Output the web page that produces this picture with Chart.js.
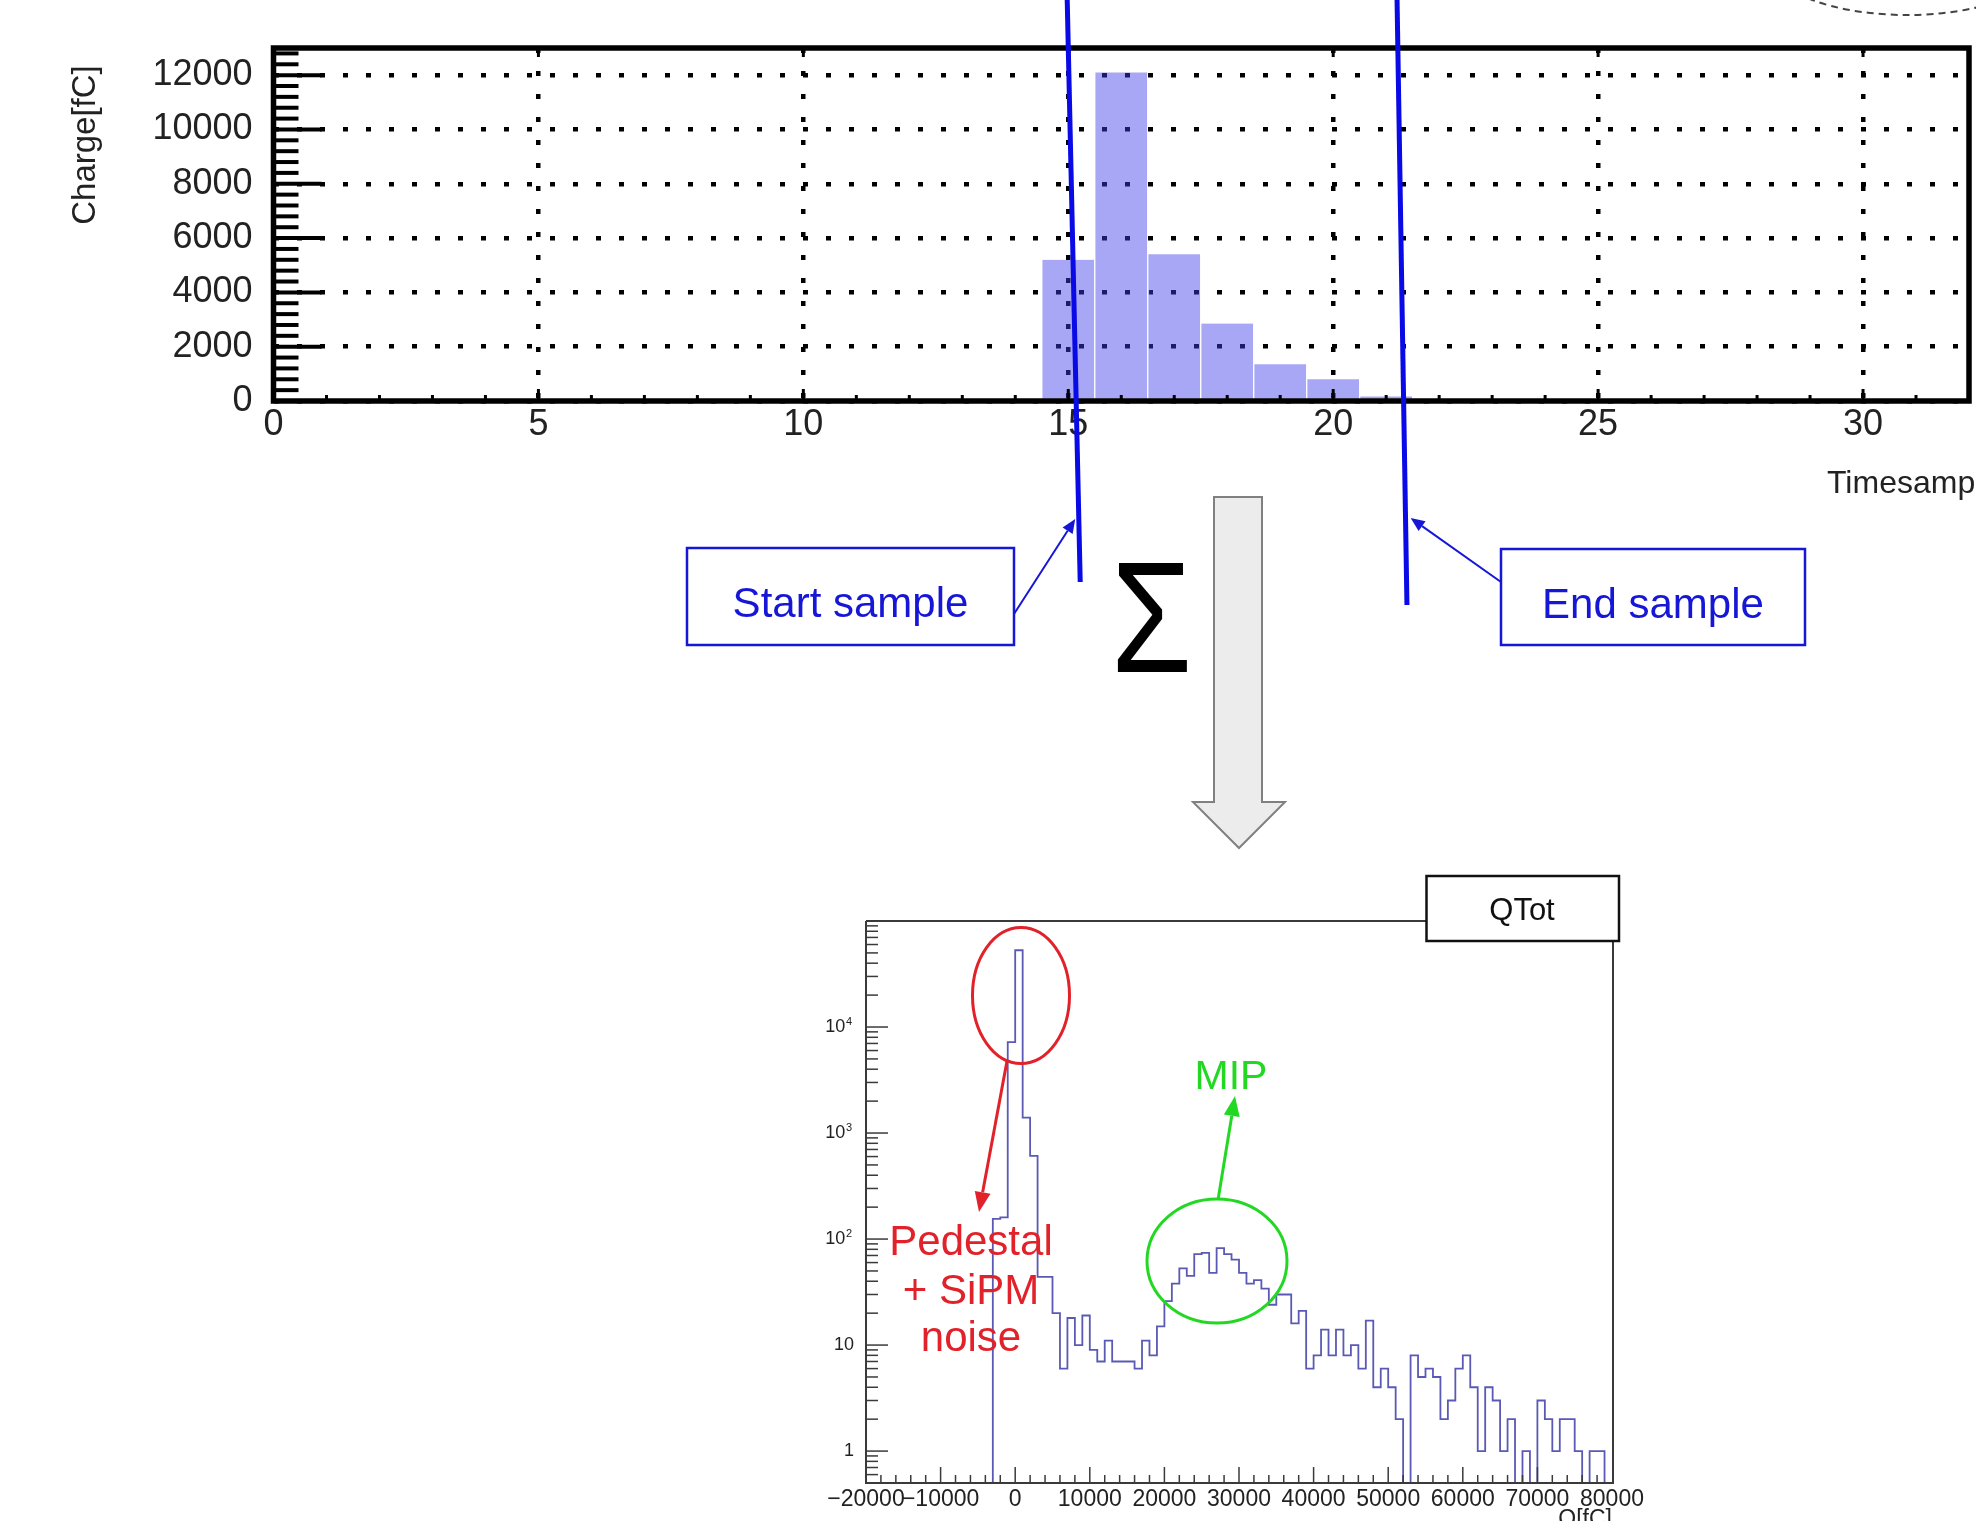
<!DOCTYPE html>
<html>
<head>
<meta charset="utf-8">
<script src="https://cdn.jsdelivr.net/npm/chart.js@4.4.1/dist/chart.umd.min.js"></script>
<style>
  html, body { margin: 0; padding: 0; background: #fff; }
  body { width: 1976px; height: 1521px; position: relative; overflow: hidden; }
  #pulseChart { position: absolute; left: 0; top: 0; }
  #qtotChart { position: absolute; left: 600px; top: 860px; }
</style>
</head>
<body>
<canvas id="pulseChart" width="1976" height="860"></canvas>
<canvas id="qtotChart" width="1100" height="661"></canvas>
<script>
const FONT = '"Liberation Sans", Arial, Helvetica, sans-serif';

// top plot: charge per time sample
const sampleBins = [15, 16, 17, 18, 19, 20, 21];
const sampleCharge = [5200, 12100, 5400, 2850, 1350, 800, 170];
const sampleTicks = [0, 5, 10, 15, 20, 25, 30];
const chargeTicks = [0, 2000, 4000, 6000, 8000, 10000, 12000];
// where the hand drawn window lines cross the time axis
const windowStart = 15.15;
const windowEnd = 21.33;

// bottom plot: QTot spectrum, 1000 fC bins given by lower edge
const qBinLow = [
  -4000, -3000, -2000, -1000, 0, 1000, 2000, 3000, 4000, 5000, 6000, 7000, 8000, 9000,
  10000, 11000, 12000, 13000, 14000, 15000, 16000, 17000, 18000, 19000,
  20000, 21000, 22000, 23000, 24000, 25000, 26000, 27000, 28000, 29000,
  30000, 31000, 32000, 33000, 34000, 35000, 36000, 37000, 38000, 39000,
  40000, 41000, 42000, 43000, 44000, 45000, 46000, 47000, 48000, 49000,
  50000, 51000, 52000, 53000, 54000, 55000, 56000, 57000, 58000, 59000,
  60000, 61000, 62000, 63000, 64000, 65000, 66000, 67000, 68000, 69000,
  70000, 71000, 72000, 73000, 74000, 75000, 76000, 77000, 78000, 79000
];
const qCounts = [
  0, 155, 160, 7200, 53000, 1400, 610, 44, 44, 20, 6, 18, 10, 19,
  9, 7, 11, 7, 7, 7, 6, 11, 8, 15,
  26, 38, 53, 45, 72, 74, 48, 82, 72, 64,
  48, 38, 41, 34, 24, 30, 30, 16, 21, 6,
  8, 14, 8, 14, 8, 10, 6, 17, 4, 6,
  4, 2, 0, 8, 5, 6, 5, 2, 3, 6,
  8, 4, 1, 4, 3, 1, 2, 0, 1, 0,
  3, 2, 1, 2, 2, 1, 0, 1, 1, 0
];
const qBinWidth = 1000;
const qTicks = [-20000, -10000, 0, 10000, 20000, 30000, 40000, 50000, 60000, 70000, 80000];
const qDecades = [1, 10, 100, 1000, 10000];
const Q_MIN = 0.5;
const Q_MAX = 100000;

Chart.defaults.font.family = FONT;

function arrow(ctx, x1, y1, x2, y2, color, lw, head, half) {
  const a = Math.atan2(y2 - y1, x2 - x1);
  const bx = x2 - head * Math.cos(a), by = y2 - head * Math.sin(a);
  ctx.strokeStyle = color;
  ctx.fillStyle = color;
  ctx.lineWidth = lw;
  ctx.beginPath(); ctx.moveTo(x1, y1); ctx.lineTo(bx, by); ctx.stroke();
  ctx.beginPath();
  ctx.moveTo(x2, y2);
  ctx.lineTo(bx + half * Math.sin(a), by - half * Math.cos(a));
  ctx.lineTo(bx - half * Math.sin(a), by + half * Math.cos(a));
  ctx.closePath();
  ctx.fill();
}

function labelBox(ctx, x, y, w, h, text, color) {
  ctx.strokeStyle = color;
  ctx.lineWidth = 2.5;
  ctx.strokeRect(x, y, w, h);
  ctx.fillStyle = color;
  ctx.font = '42px ' + FONT;
  ctx.textAlign = 'center';
  ctx.textBaseline = 'alphabetic';
  ctx.fillText(text, x + w / 2, y + 69);
}

// frame, inner ticks and all the drawn-on notes of the top picture
const pulseDecor = {
  id: 'pulseDecor',
  afterDraw(chart) {
    const ctx = chart.ctx;
    const xs = chart.scales.x, ys = chart.scales.y;
    const {left, right, top, bottom} = chart.chartArea;
    ctx.save();

    // inner ticks
    ctx.strokeStyle = '#000';
    ctx.lineWidth = 4;
    for (let v = 400; v <= 12800; v += 400) {
      const y = ys.getPixelForValue(v);
      const len = v % 2000 === 0 ? 48 : 25;
      ctx.beginPath(); ctx.moveTo(left, y); ctx.lineTo(left + len, y); ctx.stroke();
    }
    ctx.lineWidth = 3;
    for (let v = 1; v < 32; v++) {
      const x = xs.getPixelForValue(v);
      const len = v % 5 === 0 ? 12 : 6;
      ctx.beginPath(); ctx.moveTo(x, bottom); ctx.lineTo(x, bottom - len); ctx.stroke();
      if (v % 5 === 0) {
        ctx.beginPath(); ctx.moveTo(x, top); ctx.lineTo(x, top + 9); ctx.stroke();
      }
    }
    // frame
    ctx.lineWidth = 5.5;
    ctx.strokeRect(left, top, right - left, bottom - top);

    // axis titles
    ctx.fillStyle = '#222';
    ctx.save();
    ctx.translate(95, 145);
    ctx.rotate(-Math.PI / 2);
    ctx.font = '33px ' + FONT;
    ctx.textAlign = 'center';
    ctx.textBaseline = 'alphabetic';
    ctx.fillText('Charge[fC]', 0, 0);
    ctx.restore();
    ctx.font = '32px ' + FONT;
    ctx.textAlign = 'left';
    ctx.fillText('Timesample', 1827, 493);

    // dashed outline peeking in at the top right
    ctx.strokeStyle = '#444';
    ctx.lineWidth = 2;
    ctx.setLineDash([7, 5]);
    ctx.beginPath(); ctx.ellipse(1907, -40, 138, 55, 0, 0, Math.PI * 2); ctx.stroke();
    ctx.setLineDash([]);

    // integration window lines
    const blue = '#0a0ae6';
    const sx = xs.getPixelForValue(windowStart);
    const ex = xs.getPixelForValue(windowEnd);
    ctx.strokeStyle = blue;
    ctx.lineWidth = 5;
    ctx.beginPath(); ctx.moveTo(sx - 9, 0); ctx.lineTo(sx + 4, 582); ctx.stroke();
    ctx.beginPath(); ctx.moveTo(ex - 6.6, 0); ctx.lineTo(ex + 3.3, 605); ctx.stroke();

    labelBox(ctx, 687, 548, 327, 97, 'Start sample', '#1616d6');
    labelBox(ctx, 1501, 549, 304, 96, 'End sample', '#1616d6');
    arrow(ctx, 1014, 614, sx - 1, 519, '#1616d6', 2, 14, 6);
    arrow(ctx, 1501, 582, ex + 7, 518, '#1616d6', 2, 14, 6);

    // sum sign
    ctx.save();
    ctx.translate(1151.5, 672);
    ctx.scale(0.83, 1);
    ctx.fillStyle = '#000';
    ctx.font = '158px ' + FONT;
    ctx.textAlign = 'center';
    ctx.textBaseline = 'alphabetic';
    ctx.fillText('\u03A3', 0, 0);
    ctx.restore();

    // big grey arrow down
    ctx.fillStyle = '#ececec';
    ctx.strokeStyle = '#808080';
    ctx.lineWidth = 2;
    ctx.beginPath();
    ctx.moveTo(1214, 497); ctx.lineTo(1262, 497); ctx.lineTo(1262, 802);
    ctx.lineTo(1285, 802); ctx.lineTo(1239, 848); ctx.lineTo(1193, 802);
    ctx.lineTo(1214, 802); ctx.closePath();
    ctx.fill(); ctx.stroke();

    ctx.restore();
  }
};

new Chart(document.getElementById('pulseChart'), {
  type: 'bar',
  data: {
    datasets: [{
      data: sampleBins.map((x, i) => ({x: x, y: sampleCharge[i]})),
      backgroundColor: 'rgba(60, 60, 232, 0.45)',
      borderColor: 'rgba(255, 255, 255, 0.9)',
      borderWidth: {left: 1, right: 1, top: 0, bottom: 0},
      barPercentage: 1,
      categoryPercentage: 1
    }]
  },
  options: {
    responsive: false,
    animation: false,
    layout: {padding: {left: 0, top: 48, right: 7, bottom: 399}},
    plugins: {legend: {display: false}, tooltip: {enabled: false}},
    scales: {
      x: {
        type: 'linear', min: 0, max: 32, offset: false,
        afterBuildTicks: s => { s.ticks = sampleTicks.map(v => ({value: v})); },
        afterFit: s => { s.height = 60; },
        ticks: {autoSkip: false, maxRotation: 0, padding: 2, color: '#222', font: {size: 36},
          callback: v => String(v)},
        grid: {color: '#000', lineWidth: 4.5, drawTicks: false, offset: false},
        border: {display: false, dash: [5, 18]}
      },
      y: {
        min: 0, max: 13000,
        afterBuildTicks: s => { s.ticks = chargeTicks.map(v => ({value: v})); },
        afterFit: s => { s.width = 273.5; },
        ticks: {autoSkip: false, padding: 21, color: '#222', font: {size: 36},
          callback: v => String(v)},
        grid: {color: '#000', lineWidth: 4.5, drawTicks: false},
        border: {display: false, dash: [5, 18]}
      }
    }
  },
  plugins: [pulseDecor]
});

// frame, ticks, log labels and notes of the QTot spectrum
const qtotDecor = {
  id: 'qtotDecor',
  afterDraw(chart) {
    const ctx = chart.ctx;
    const xs = chart.scales.x, ys = chart.scales.y;
    const {left, right, top, bottom} = chart.chartArea;
    ctx.save();

    ctx.strokeStyle = '#3a3a3a';
    ctx.lineWidth = 1.5;
    for (let d = 0.1; d < Q_MAX; d *= 10) {
      for (let m = 1; m <= 9; m++) {
        const v = d * m;
        if (v < Q_MIN || v > Q_MAX) continue;
        const y = ys.getPixelForValue(v);
        const len = m === 1 ? 22 : 12;
        ctx.beginPath(); ctx.moveTo(left, y); ctx.lineTo(left + len, y); ctx.stroke();
      }
    }
    for (let v = -18000; v < 80000; v += 2000) {
      const x = xs.getPixelForValue(v);
      const len = v % 10000 === 0 ? 16 : 8;
      ctx.beginPath(); ctx.moveTo(x, bottom); ctx.lineTo(x, bottom - len); ctx.stroke();
    }

    ctx.lineWidth = 2;
    ctx.beginPath();
    ctx.moveTo(left, top); ctx.lineTo(left, bottom); ctx.lineTo(right + 1, bottom);
    ctx.lineTo(right + 1, top); ctx.lineTo(left, top);
    ctx.stroke();

    // log labels with raised exponent
    ctx.fillStyle = '#222';
    ctx.textAlign = 'right';
    ctx.textBaseline = 'middle';
    qDecades.forEach(v => {
      const y = ys.getPixelForValue(v);
      const exp = Math.round(Math.log10(v));
      if (exp <= 1) {
        ctx.font = '18px ' + FONT;
        ctx.fillText(String(v), left - 12, y);
      } else {
        ctx.font = '11px ' + FONT;
        ctx.fillText(String(exp), left - 14, y - 5);
        const w = ctx.measureText(String(exp)).width;
        ctx.font = '18px ' + FONT;
        ctx.fillText('10', left - 14 - w - 0.5, y);
      }
    });

    ctx.font = '23px ' + FONT;
    ctx.textAlign = 'right';
    ctx.textBaseline = 'top';
    ctx.fillText('Q[fC]', right, 648);

    // title box
    ctx.fillStyle = '#fff';
    ctx.fillRect(826.5, 16, 192.5, 65);
    ctx.strokeStyle = '#111';
    ctx.lineWidth = 2.5;
    ctx.strokeRect(826.5, 16, 192.5, 65);
    ctx.fillStyle = '#111';
    ctx.font = '31px ' + FONT;
    ctx.textAlign = 'center';
    ctx.textBaseline = 'alphabetic';
    ctx.fillText('QTot', 922, 60);

    // pedestal note
    const red = '#e2222a';
    ctx.strokeStyle = red;
    ctx.lineWidth = 3;
    ctx.beginPath(); ctx.ellipse(421, 135.5, 48.5, 68, 0, 0, Math.PI * 2); ctx.stroke();
    arrow(ctx, 407, 201, 379, 352, red, 3, 20, 8);
    ctx.fillStyle = red;
    ctx.font = '42px ' + FONT;
    ctx.textAlign = 'center';
    ctx.fillText('Pedestal', 371, 395);
    ctx.fillText('+ SiPM', 371, 444);
    ctx.fillText('noise', 371, 491);

    // MIP note
    const green = '#22d822';
    ctx.strokeStyle = green;
    ctx.lineWidth = 3;
    ctx.beginPath(); ctx.ellipse(617, 401, 70, 62, 0, 0, Math.PI * 2); ctx.stroke();
    arrow(ctx, 618, 340, 635, 236, green, 3, 20, 8);
    ctx.fillStyle = green;
    ctx.font = '41px ' + FONT;
    ctx.fillText('MIP', 631, 229);

    ctx.restore();
  }
};

const qPoints = qBinLow.map((x, i) => ({x: x, y: Math.max(qCounts[i], Q_MIN)}));
qPoints.push({x: qBinLow[qBinLow.length - 1] + qBinWidth, y: Math.max(qCounts[qCounts.length - 1], Q_MIN)});

new Chart(document.getElementById('qtotChart'), {
  type: 'line',
  data: {
    datasets: [{
      data: qPoints,
      stepped: 'before',
      borderColor: '#5a5ab4',
      borderWidth: 1.8,
      pointRadius: 0,
      fill: false
    }]
  },
  options: {
    responsive: false,
    animation: false,
    layout: {padding: {left: 0, top: 61, right: 88, bottom: 0}},
    plugins: {legend: {display: false}, tooltip: {enabled: false}},
    scales: {
      x: {
        type: 'linear', min: -20000, max: 80000,
        afterBuildTicks: s => { s.ticks = qTicks.map(v => ({value: v})); },
        afterFit: s => { s.height = 38; },
        ticks: {
          autoSkip: false, maxRotation: 0, padding: 3, color: '#222', font: {size: 23},
          callback: v => (v < 0 ? '\u2212' + Math.abs(v) : String(v))
        },
        grid: {display: false, drawTicks: false},
        border: {display: false}
      },
      y: {
        type: 'logarithmic', min: Q_MIN, max: Q_MAX,
        afterBuildTicks: s => { s.ticks = qDecades.map(v => ({value: v})); },
        afterFit: s => { s.width = 266; },
        ticks: {display: false},
        grid: {display: false, drawTicks: false},
        border: {display: false}
      }
    }
  },
  plugins: [qtotDecor]
});
</script>
</body>
</html>
